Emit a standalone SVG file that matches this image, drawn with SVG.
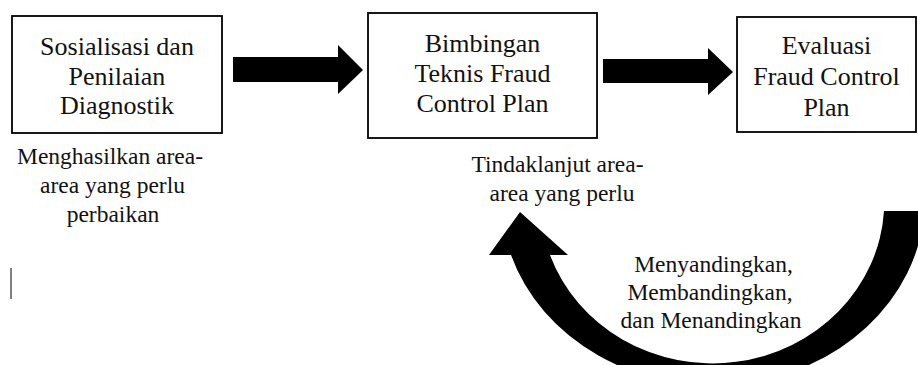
<svg xmlns="http://www.w3.org/2000/svg" width="918" height="365" viewBox="0 0 918 365">
<style>
.box{fill:#fff;stroke:#000;stroke-width:1.8}
.t{font-size:26px;fill:#111;text-anchor:middle}
.c{font-size:23.5px;fill:#111;text-anchor:middle}
.arr{fill:#000}
</style>
<rect width="918" height="365" fill="#fff"/>
<g font-family="'Liberation Serif', 'DejaVu Serif', serif">
<g id="node-sosialisasi">
<rect class="box" x="12" y="16" width="210" height="117"/>
<text class="t" x="117" y="55">Sosialisasi dan</text>
<text class="t" x="117" y="85">Penilaian</text>
<text class="t" x="117" y="114">Diagnostik</text>
</g>
<g id="node-bimbingan">
<rect class="box" x="368" y="13" width="229" height="125"/>
<text class="t" x="482.5" y="52">Bimbingan</text>
<text class="t" x="482.5" y="82">Teknis Fraud</text>
<text class="t" x="482.5" y="112">Control Plan</text>
</g>
<g id="node-evaluasi">
<rect class="box" x="737" y="17" width="179" height="115"/>
<text class="t" x="826.5" y="54">Evaluasi</text>
<text class="t" x="826.5" y="85">Fraud Control</text>
<text class="t" x="826.5" y="116">Plan</text>
</g>
<g id="connectors">
<polygon class="arr" points="233,57 338,57 338,45 363,70 338,94 338,82 233,82"/>
<polygon class="arr" points="603,59 708,59 708,48 733,72 708,95 708,83 603,83"/>
<path class="arr" d="M 511,255 A 212 187 0 0 0 924.5,211 L 884,211 A 172 162 0 0 1 550,255 L 568,255 L 520,212 L 489,255 Z"/>
</g>
<g id="labels">
<text class="c" x="110" y="164">Menghasilkan area-</text>
<text class="c" x="112.5" y="193">area yang perlu</text>
<text class="c" x="113" y="222">perbaikan</text>
<text class="c" x="557.5" y="172">Tindaklanjut area-</text>
<text class="c" x="562" y="201">area yang perlu</text>
<text class="c" x="713.5" y="272">Menyandingkan,</text>
<text class="c" x="710" y="300">Membandingkan,</text>
<text class="c" x="711" y="328">dan Menandingkan</text>
</g>
</g>
<line x1="11" y1="268" x2="11" y2="299" stroke="#555" stroke-width="1.5"/>
</svg>
